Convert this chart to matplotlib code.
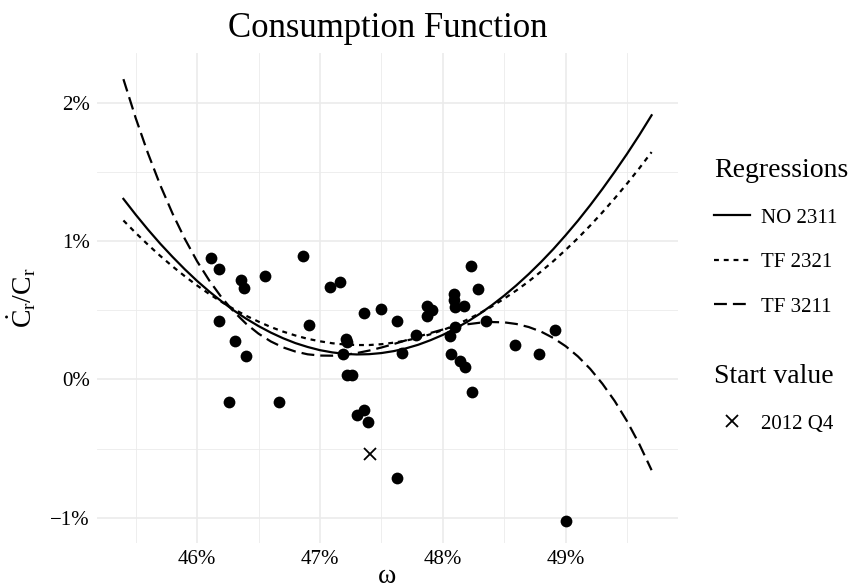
import numpy as np
import matplotlib
matplotlib.use("Agg")
import matplotlib.pyplot as plt
from matplotlib.ticker import FuncFormatter

# observed points: wage share (%) vs growth of real consumption (%)
omega = [46.11, 46.18, 46.36, 46.38, 46.55, 46.86, 47.08, 47.16, 47.36, 47.50,
         46.18, 46.31, 46.40, 46.91, 47.21, 47.22, 47.19, 47.22, 47.26, 46.26,
         46.67, 47.30, 47.36, 47.39, 47.63, 47.63, 47.67, 47.78, 47.87, 47.91,
         47.87, 48.09, 48.09, 48.10, 48.17, 48.23, 48.29, 48.35, 48.10, 48.06,
         48.07, 48.14, 48.18, 48.24, 48.59, 48.78, 48.91, 49.00]
growth = [0.88, 0.80, 0.72, 0.66, 0.75, 0.89, 0.67, 0.70, 0.48, 0.51,
          0.42, 0.28, 0.17, 0.39, 0.29, 0.27, 0.18, 0.03, 0.03, -0.16,
          -0.16, -0.26, -0.22, -0.31, -0.71, 0.42, 0.19, 0.32, 0.53, 0.50,
          0.46, 0.62, 0.57, 0.52, 0.53, 0.82, 0.65, 0.42, 0.38, 0.31,
          0.18, 0.13, 0.09, -0.09, 0.25, 0.18, 0.36, -1.02]

# start value 2012 Q4
start_omega = [47.41]
start_growth = [-0.54]

omega_fit = [45.4, 45.5, 45.6, 45.7, 45.8, 45.9, 46.0, 46.1, 46.2, 46.3, 46.4,
             46.5, 46.6, 46.7, 46.8, 46.9, 47.0, 47.1, 47.2, 47.3, 47.4, 47.5,
             47.6, 47.7, 47.8, 47.9, 48.0, 48.1, 48.2, 48.3, 48.4, 48.5, 48.6,
             48.7, 48.8, 48.9, 49.0, 49.1, 49.2, 49.3, 49.4, 49.5, 49.6, 49.7]
no_2311 = [1.304, 1.190, 1.082, 0.980, 0.885, 0.795, 0.711, 0.634, 0.563, 0.497,
           0.438, 0.385, 0.338, 0.297, 0.262, 0.234, 0.211, 0.195, 0.184, 0.180,
           0.182, 0.190, 0.204, 0.224, 0.250, 0.283, 0.321, 0.366, 0.416, 0.473,
           0.536, 0.605, 0.680, 0.761, 0.848, 0.941, 1.041, 1.146, 1.258, 1.376,
           1.500, 1.629, 1.765, 1.908]
tf_2321 = [1.148, 1.058, 0.973, 0.892, 0.816, 0.745, 0.678, 0.616, 0.559, 0.507,
           0.459, 0.417, 0.378, 0.345, 0.317, 0.293, 0.275, 0.261, 0.252, 0.248,
           0.248, 0.254, 0.265, 0.280, 0.300, 0.326, 0.356, 0.391, 0.432, 0.477,
           0.527, 0.583, 0.643, 0.708, 0.779, 0.854, 0.935, 1.020, 1.111, 1.207,
           1.308, 1.414, 1.525, 1.642]
tf_3211 = [2.169, 1.888, 1.633, 1.403, 1.198, 1.015, 0.853, 0.713, 0.591, 0.488,
           0.401, 0.330, 0.274, 0.231, 0.201, 0.181, 0.172, 0.171, 0.177, 0.190,
           0.208, 0.230, 0.255, 0.282, 0.309, 0.335, 0.360, 0.381, 0.398, 0.409,
           0.414, 0.412, 0.400, 0.378, 0.345, 0.299, 0.240, 0.166, 0.076, -0.032,
           -0.157, -0.302, -0.468, -0.656]

regression_labels = ["NO 2311", "TF 2321", "TF 3211"]
start_label = "2012 Q4"

x_major = [46, 47, 48, 49]
x_minor = [45.5, 46.5, 47.5, 48.5, 49.5]
y_major = [-1, 0, 1, 2]
y_minor = [-0.5, 0.5, 1.5]

plt.rcParams['font.family'] = ['Liberation Serif', 'DejaVu Serif']
plt.rcParams['mathtext.fontset'] = 'custom'
plt.rcParams['mathtext.rm'] = 'Liberation Serif'
plt.rcParams['mathtext.it'] = 'Liberation Serif:italic'


def pct(v, pos):
    return f"{v:.0f}%".replace("-", "\u2212")


fig = plt.figure(figsize=(8.53, 5.88), dpi=100)
ax = fig.add_axes([97 / 853, 1 - 542.7 / 588, 581 / 853, 490 / 588])

# curves
styles = ['-', (0, (2.2, 2.2)), (0, (5.8, 2.7))]
curves = [no_2311, tf_2321, tf_3211]
handles = []
for ys, ls, lab in zip(curves, styles, regression_labels):
    line, = ax.plot(omega_fit, ys, color='black', lw=1.6, linestyle=ls, label=lab, zorder=2)
    handles.append(line)

# points
ax.scatter(omega, growth, s=72, color='black', linewidths=0, zorder=3)
start, = ax.plot(start_omega, start_growth, ls='none', marker='x', ms=8,
                 mew=1.3, color='black', zorder=3)

ax.set_xlim(45.185, 49.915)
ax.set_ylim(-1.18, 2.36)
ax.set_xticks(x_major)
ax.set_xticks(x_minor, minor=True)
ax.set_yticks(y_major)
ax.set_yticks(y_minor, minor=True)
ax.xaxis.set_major_formatter(FuncFormatter(pct))
ax.yaxis.set_major_formatter(FuncFormatter(pct))
ax.tick_params(which='both', length=0, labelsize=15)
ax.tick_params(axis='x', pad=5.5)
ax.tick_params(axis='y', pad=5)
ax.grid(which='major', color='#EBEBEB', lw=1.2)
ax.grid(which='minor', color='#EBEBEB', lw=0.6)
ax.set_axisbelow(True)
for s in ax.spines.values():
    s.set_visible(False)

ax.set_title("Consumption Function", fontsize=25, pad=11)
ax.set_xlabel("\u03c9", fontsize=20, labelpad=-3.5)
ax.set_ylabel(r"$\dot{\mathrm{C}}_\mathrm{r}/\mathrm{C}_\mathrm{r}$", fontsize=20, labelpad=9)

# legends on the right
leg_kw = dict(loc='upper left', bbox_transform=fig.transFigure, frameon=False,
              borderaxespad=0, borderpad=0, handlelength=1.73, handletextpad=0.55,
              labelspacing=1.2, fontsize=15, title_fontsize=20, alignment='left')
leg1 = ax.legend(handles, regression_labels, title="Regressions",
                 bbox_to_anchor=(714 / 853, 1 - 158 / 588), **leg_kw)
ax.add_artist(leg1)
ax.legend([start], [start_label], title="Start value",
          bbox_to_anchor=(714 / 853, 1 - 364 / 588), **leg_kw)

fig.savefig("out.png", dpi=100)
plt.close(fig)
